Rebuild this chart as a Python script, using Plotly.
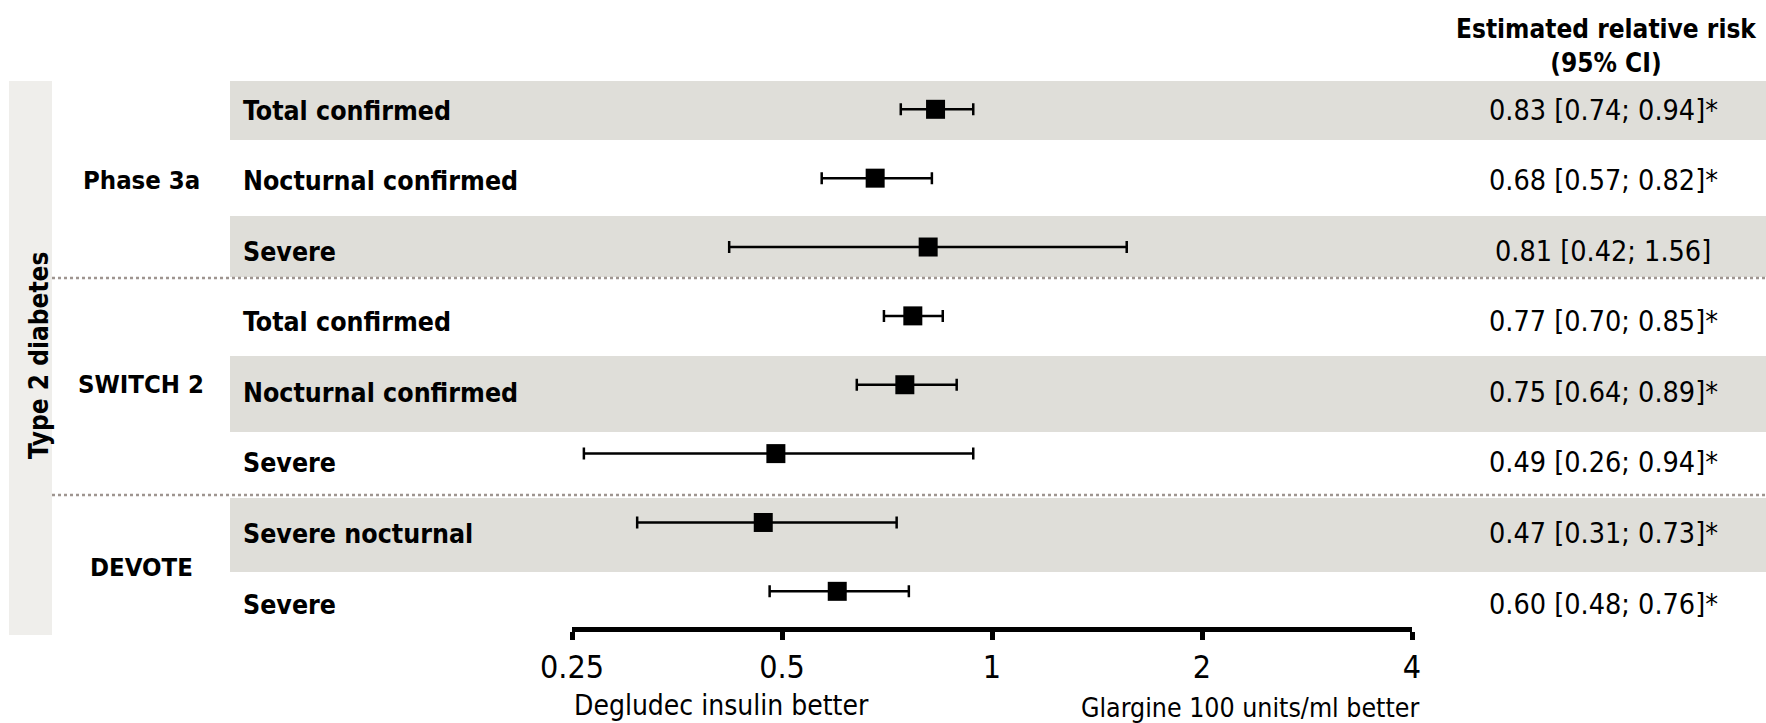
import math
import plotly.graph_objects as go

# ---------------- data ----------------
outcomes = ["Total confirmed", "Nocturnal confirmed", "Severe",
            "Total confirmed", "Nocturnal confirmed", "Severe",
            "Severe nocturnal", "Severe"]
trials = ["Phase 3a", "SWITCH 2", "DEVOTE"]
rr = [0.83, 0.68, 0.81, 0.77, 0.75, 0.49, 0.47, 0.60]
ci_low = [0.74, 0.57, 0.42, 0.70, 0.64, 0.26, 0.31, 0.48]
ci_high = [0.94, 0.82, 1.56, 0.85, 0.89, 0.94, 0.73, 0.76]
significant = [True, True, False, True, True, True, True, True]
tick_vals = [0.25, 0.5, 1, 2, 4]
tick_text = ["0.25", "0.5", "1", "2", "4"]
population = "Type 2 diabetes"
left_label = "Degludec insulin better"
right_label = "Glargine 100 units/ml better"
header = "Estimated relative risk<br>(95% CI)"

# ---------------- layout helpers (pixels -> paper) ----------------
W, H = 1766, 723
def xp(px): return px / W
def yp(px): return 1 - px / H

FONT = "Liberation Sans Narrow, DejaVu Sans Condensed, Lato, sans-serif"
BAND = "#dfded9"
LEFTBAND = "#efeeeb"

rows = list(range(len(outcomes)))
def text_y(i): return 110 + 70.6 * i

fig = go.Figure()
fig.add_trace(go.Scatter(
    x=rr, y=rows, mode="markers",
    marker=dict(symbol="square", size=19, color="black"),
    error_x=dict(type="data", symmetric=False,
                 array=[h - r for h, r in zip(ci_high, rr)],
                 arrayminus=[r - l for r, l in zip(rr, ci_low)],
                 color="black", thickness=2.5, width=6),
    cliponaxis=False, showlegend=False, hoverinfo="skip"))

shapes = []
# left vertical band
shapes.append(dict(type="rect", xref="paper", yref="paper", x0=xp(9), x1=xp(52),
                   y0=yp(635), y1=yp(81), fillcolor=LEFTBAND, line_width=0, layer="below"))
# shaded row bands
for (t, b) in [(81, 140), (216, 277), (356, 432), (498, 572)]:
    shapes.append(dict(type="rect", xref="paper", yref="paper", x0=xp(230), x1=1,
                       y0=yp(b), y1=yp(t), fillcolor=BAND, line_width=0, layer="below"))
# dotted separators
for py in [278, 495]:
    shapes.append(dict(type="line", xref="paper", yref="paper", x0=xp(52), x1=1,
                       y0=yp(py), y1=yp(py), line=dict(color="#9e9590", width=2.5, dash="dot"),
                       layer="below"))
# reference line at 1
shapes.append(dict(type="line", xref="x", yref="paper", x0=math.log10(1), x1=math.log10(1),
                   y0=yp(627), y1=yp(74), line=dict(color="#8a8a8a", width=5), layer="below"))

ann = []
for i, lab in enumerate(outcomes):
    ann.append(dict(text="<b>%s</b>" % lab, xref="paper", yref="paper", x=xp(241), y=yp(text_y(i)),
                    xanchor="left", yanchor="middle", showarrow=False,
                    font=dict(family=FONT, size=26.5, color="black")))
    txt = "%.2f [%.2f; %.2f]%s" % (rr[i], ci_low[i], ci_high[i], "*" if significant[i] else "")
    ann.append(dict(text=txt, xref="paper", yref="paper", x=xp(1603), y=yp(text_y(i)),
                    xanchor="center", yanchor="middle", showarrow=False,
                    font=dict(family=FONT, size=28.5, color="black")))
for lab, py in zip(trials, [180, 384, 567]):
    ann.append(dict(text="<b>%s</b>" % lab, xref="paper", yref="paper", x=xp(141), y=yp(py),
                    xanchor="center", yanchor="middle", showarrow=False,
                    font=dict(family=FONT, size=25.5, color="black")))
ann.append(dict(text="<b>%s</b>" % population, xref="paper", yref="paper", x=xp(39), y=yp(356),
                xanchor="center", yanchor="middle", showarrow=False, textangle=-90,
                font=dict(family=FONT, size=26, color="black")))
ann.append(dict(text="<b>%s</b>" % header, xref="paper", yref="paper", x=xp(1606), y=yp(46),
                xanchor="center", yanchor="middle", showarrow=False,
                font=dict(family=FONT, size=26, color="black")))
ann.append(dict(text=left_label, xref="paper", yref="paper", x=xp(721), y=yp(705),
                xanchor="center", yanchor="middle", showarrow=False,
                font=dict(family=FONT, size=28, color="black")))
ann.append(dict(text=right_label, xref="paper", yref="paper", x=xp(1250), y=yp(707),
                xanchor="center", yanchor="middle", showarrow=False,
                font=dict(family=FONT, size=26.5, color="black")))

fig.update_layout(
    width=W, height=H, margin=dict(l=0, r=0, t=0, b=0, autoexpand=False),
    paper_bgcolor="white", plot_bgcolor="rgba(0,0,0,0)",
    shapes=shapes, annotations=ann,
    xaxis=dict(type="log", domain=[xp(572), xp(1412)],
               range=[math.log10(0.25), math.log10(4)],
               tickvals=tick_vals, ticktext=tick_text, automargin=False,
               showline=True, linecolor="black", linewidth=4.5,
               ticks="outside", ticklen=8, tickwidth=4.5, tickcolor="black",
               showgrid=False, zeroline=False,
               tickfont=dict(family=FONT, size=32, color="black")),
    yaxis=dict(domain=[yp(627), yp(74)], range=[7.518, -0.5126], automargin=False,
               visible=False, showgrid=False, zeroline=False),
)
fig.write_html("out.html")
